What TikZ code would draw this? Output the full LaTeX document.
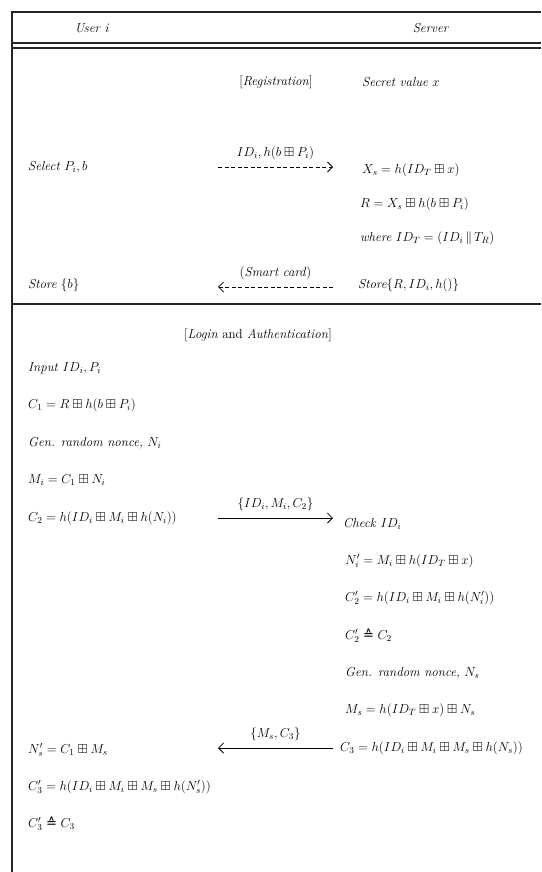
\RequirePackage{fix-cm}
\documentclass[tikz,border=0pt]{standalone}
\usepackage{amsmath,amssymb}
\usepackage{fontspec}
\newfontfamily\symfont{DejaVu Sans}
\usetikzlibrary{arrows.meta}
\newcommand{\xo}{\boxplus}
\newcommand{\heq}{\mathrel{\text{\symfont\char"2259}}}
\begin{document}
\begin{tikzpicture}[x=1pt,y=-1pt,
  txt/.style={anchor=west, inner sep=0pt, font=\fontsize{13}{15}\selectfont},
  ctr/.style={inner sep=0pt, font=\fontsize{13}{15}\selectfont},
  lbl/.style={above, inner sep=0pt, yshift=7pt, font=\fontsize{13}{15}\selectfont},
  rule/.style={line width=1.1pt, draw=black!85},
  msg/.style={line width=0.8pt, -{Straight Barb[length=5pt,width=10pt]}},
  dmsg/.style={msg, dash pattern=on 4pt off 2.5pt}]
\useasboundingbox (0,0) rectangle (541,872);
% frame
\draw[rule] (541,12) -- (12,12) -- (12,872);
\draw[rule] (12,43) -- (541,43);
\draw[rule] (12,48) -- (541,48);
\draw[rule] (12,304) -- (541,304);
% header
\node[ctr] (user) at (92,28) {\textit{User i}};
\node[ctr] (server) at (431,28) {\textit{Server}};
% registration
\node[ctr] (reg) at (276,82) {[\textit{Registration}]};
\node[txt] (sec) at (362,82) {\textit{Secret value} $x$};
\node[txt] (sel) at (28,167) {\textit{Select} $P_i, b$};
\node[txt] (xs) at (362,170) {$X_s = h(ID_T \xo x)$};
\node[txt] (r) at (360,204) {$R = X_s \xo h(b \xo P_i)$};
\node[txt] (where) at (360,238) {\textit{where} $ID_T = (ID_i \,\|\, T_R)$};
\node[txt] (stb) at (28,285) {\textit{Store} $\{b\}$};
\node[txt] (str) at (358,285) {\textit{Store}$\{R, ID_i, h()\}$};
\coordinate (a1s) at (218,167);
\coordinate (a1e) at (333,167);
\coordinate (a2s) at (333,287);
\coordinate (a2e) at (218,287);
\draw[dmsg] (a1s) -- node[lbl] (l1) {$ID_i, h(b \xo P_i)$} (a1e);
\draw[dmsg] (a2s) -- node[lbl] (l2) {(\textit{Smart card})} (a2e);
% login
\node[ctr] (login) at (258,335) {[\textit{Login} and \textit{Authentication}]};
\node[txt] (inp) at (28,368) {\textit{Input} $ID_i, P_i$};
\node[txt] (c1) at (28,405) {$C_1 = R \xo h(b \xo P_i)$};
\node[txt] (geni) at (28,443) {\textit{Gen. random nonce,} $N_i$};
\node[txt] (mi) at (28,480) {$M_i = C_1 \xo N_i$};
\node[txt] (c2) at (28,518) {$C_2 = h(ID_i \xo M_i \xo h(N_i))$};
\node[txt] (chk) at (343,524) {\textit{Check} $ID_i$};
\node[txt] (ni) at (345,561) {$N_i' = M_i \xo h(ID_T \xo x)$};
\node[txt] (c2p) at (345,598) {$C_2' = h(ID_i \xo M_i \xo h(N_i'))$};
\node[txt] (c2c) at (345,636) {$C_2' \heq C_2$};
\node[txt] (gens) at (345,673) {\textit{Gen. random nonce,} $N_s$};
\node[txt] (ms) at (345,710) {$M_s = h(ID_T \xo x) \xo N_s$};
\node[txt] (c3) at (340,748) {$C_3 = h(ID_i \xo M_i \xo M_s \xo h(N_s))$};
\node[txt] (ns) at (28,750) {$N_s' = C_1 \xo M_s$};
\node[txt] (c3p) at (28,787) {$C_3' = h(ID_i \xo M_i \xo M_s \xo h(N_s'))$};
\node[txt] (c3c) at (28,824) {$C_3' \heq C_3$};
\coordinate (a3s) at (218,518);
\coordinate (a3e) at (333,518);
\coordinate (a4s) at (333,748);
\coordinate (a4e) at (218,748);
\draw[msg] (a3s) -- node[lbl] (l3) {$\{ID_i, M_i, C_2\}$} (a3e);
\draw[msg] (a4s) -- node[lbl] (l4) {$\{M_s, C_3\}$} (a4e);
\end{tikzpicture}
\end{document}
